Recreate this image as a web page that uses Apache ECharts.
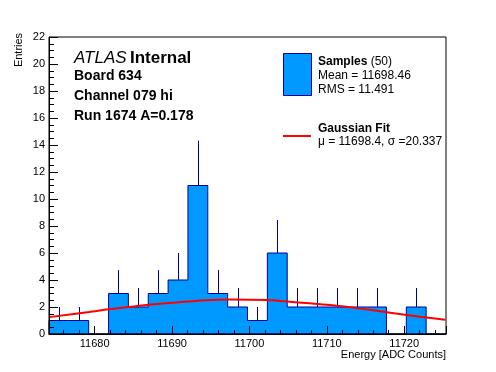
<!DOCTYPE html>
<html><head><meta charset="utf-8">
<script src="https://cdn.jsdelivr.net/npm/echarts@6/dist/echarts.min.js"></script>
<style>html,body{margin:0;padding:0;background:#fff}#c{width:496px;height:372px}</style>
</head><body><div id="c"></div>
<script>
// Histogram range and bins (20 bins)
const xMin = 11674.1;
const xMax = 11725.4;
const nBins = 20;
const counts = [1, 1, 0, 3, 2, 3, 4, 11, 3, 2, 1, 6, 2, 2, 2, 2, 2, 0, 2, 0];
const errors = [1, 1, 0, 1.73, 1.41, 1.73, 2, 3.32, 1.73, 1.41, 1, 2.45, 1.41, 1.41, 1.41, 1.41, 1.41, 0, 1.41, 0];
// Gaussian fit curve
const fitX = [11674.1, 11679.3, 11681.8, 11685.8, 11690.1, 11694.4, 11697.4, 11702.2, 11704.8, 11707.8, 11710.4, 11714.3, 11718.2, 11722.0, 11725.3];
const fitY = [1.25, 1.63, 1.83, 2.10, 2.32, 2.50, 2.55, 2.51, 2.40, 2.27, 2.14, 1.88, 1.58, 1.28, 1.05];
const yMax = 22;
const titleLines = ['Board 634', 'Channel 079 hi', 'Run 1674 A=0.178'];
const legendSamples = ['Mean = 11698.46', 'RMS = 11.491'];
const legendFit = '\u03bc = 11698.4, \u03c3 =20.337';

const FONT = '"Liberation Sans", Arial, Helvetica, sans-serif';
const FILL = '#0099ff', EDGE = '#000099';
const bw = (xMax - xMin) / nBins;
const edge = i => xMin + i * bw;

const histData = counts.map((c, i) => [edge(i) + bw / 2, c, i]);
const errData = counts.map((c, i) => [edge(i) + bw / 2, c, errors[i]]);
const fitData = fitX.map((x, i) => [x, fitY[i]]);

const chart = echarts.init(document.getElementById('c'), null, {renderer: 'canvas'});
chart.setOption({
  animation: false,
  backgroundColor: '#fff',
  textStyle: {fontFamily: FONT},
  grid: {left: 49, top: 37, width: 397, height: 297, show: true, borderColor: '#000', borderWidth: 1, backgroundColor: 'transparent', z: 20},
  xAxis: {
    type: 'value', min: xMin, max: xMax, splitNumber: 5, z: 10,
    axisLine: {show: true, onZero: false, lineStyle: {color: '#000', width: 1}},
    axisTick: {show: true, inside: true, length: 8, lineStyle: {color: '#000'}},
    minorTick: {show: true, splitNumber: 5, length: 4, lineStyle: {color: '#000'}},
    splitLine: {show: false}, minorSplitLine: {show: false},
    axisLabel: {showMinLabel: false, showMaxLabel: false, fontSize: 11, color: '#000', margin: 4, fontFamily: FONT,
      formatter: v => String(Math.round(v))}
  },
  yAxis: {
    type: 'value', min: 0, max: yMax, interval: 2, z: 10,
    axisLine: {show: true, onZero: false, lineStyle: {color: '#000', width: 1}},
    axisTick: {show: true, inside: true, length: 9, lineStyle: {color: '#000'}},
    minorTick: {show: true, splitNumber: 4, length: 5, lineStyle: {color: '#000'}},
    splitLine: {show: false}, minorSplitLine: {show: false},
    axisLabel: {fontSize: 11, color: '#000', margin: 4, fontFamily: FONT}
  },
  series: [
    {
      type: 'custom', name: 'Samples', z: 2, data: histData,
      renderItem: (params, api) => {
        if (params.dataIndex !== 0) return null;
        // one stepped polygon for the whole histogram, built from every bin through the axes
        const pts = [api.coord([xMin, 0])];
        for (let i = 0; i < nBins; i++) {
          const h = api.value(1, i);
          pts.push(api.coord([edge(i), h]));
          pts.push(api.coord([edge(i + 1), h]));
        }
        pts.push(api.coord([xMax, 0]));
        return {type: 'polygon', shape: {points: pts}, style: {fill: FILL, stroke: EDGE, lineWidth: 1}};
      }
    },
    {
      type: 'custom', name: 'errors', z: 4, data: errData,
      renderItem: (params, api) => {
        const x = api.value(0), c = api.value(1), e = api.value(2);
        if (!c) return null;
        const a = api.coord([x, c]), b = api.coord([x, c + e]);
        const px = Math.round(a[0]) + 0.5;
        return {type: 'line', shape: {x1: px, y1: a[1], x2: px, y2: b[1]}, style: {stroke: EDGE, lineWidth: 1}};
      }
    },
    {
      type: 'line', name: 'Gaussian Fit', data: fitData, symbol: 'none', smooth: 0.3, z: 5,
      lineStyle: {color: '#ff0000', width: 2}
    }
  ],
  graphic: [
    {type: 'text', x: 19, y: 50, rotation: Math.PI / 2, style: {text: 'Entries', font: '11px ' + FONT, fill: '#000', align: 'center', verticalAlign: 'middle'}},
    {type: 'text', x: 446, y: 355, style: {text: 'Energy [ADC Counts]', font: '11px ' + FONT, fill: '#000', align: 'right', verticalAlign: 'middle'}},
    {type: 'text', x: 74, y: 58, style: {text: '{a|ATLAS} {b|Internal}', verticalAlign: 'middle', fill: '#000',
      rich: {a: {fontStyle: 'italic', fontSize: 17, fontFamily: FONT}, b: {fontWeight: 'bold', fontSize: 17, fontFamily: FONT}}}},
    {type: 'text', x: 74, y: 76, style: {text: titleLines[0], font: 'bold 14px ' + FONT, fill: '#000', verticalAlign: 'middle'}},
    {type: 'text', x: 74, y: 96, style: {text: titleLines[1], font: 'bold 14px ' + FONT, fill: '#000', verticalAlign: 'middle'}},
    {type: 'text', x: 74, y: 116, style: {text: titleLines[2], font: 'bold 14px ' + FONT, fill: '#000', verticalAlign: 'middle'}},
    {type: 'rect', shape: {x: 283.5, y: 53.5, width: 28, height: 42}, style: {fill: FILL, stroke: EDGE, lineWidth: 1}},
    {type: 'text', x: 318, y: 62, style: {text: '{b|Samples} {n|(50)}', verticalAlign: 'middle', fill: '#000',
      rich: {b: {fontWeight: 'bold', fontSize: 12, fontFamily: FONT}, n: {fontSize: 12, fontFamily: FONT}}}},
    {type: 'text', x: 318, y: 76, style: {text: legendSamples[0], font: '12px ' + FONT, fill: '#000', verticalAlign: 'middle'}},
    {type: 'text', x: 318, y: 90, style: {text: legendSamples[1], font: '12px ' + FONT, fill: '#000', verticalAlign: 'middle'}},
    {type: 'line', shape: {x1: 283, y1: 136, x2: 311, y2: 136}, style: {stroke: '#ff0000', lineWidth: 2}},
    {type: 'text', x: 318, y: 129, style: {text: 'Gaussian Fit', font: 'bold 12px ' + FONT, fill: '#000', verticalAlign: 'middle'}},
    {type: 'text', x: 318, y: 142, style: {text: legendFit, font: '12px ' + FONT, fill: '#000', verticalAlign: 'middle'}}
  ]
});
</script></body></html>
